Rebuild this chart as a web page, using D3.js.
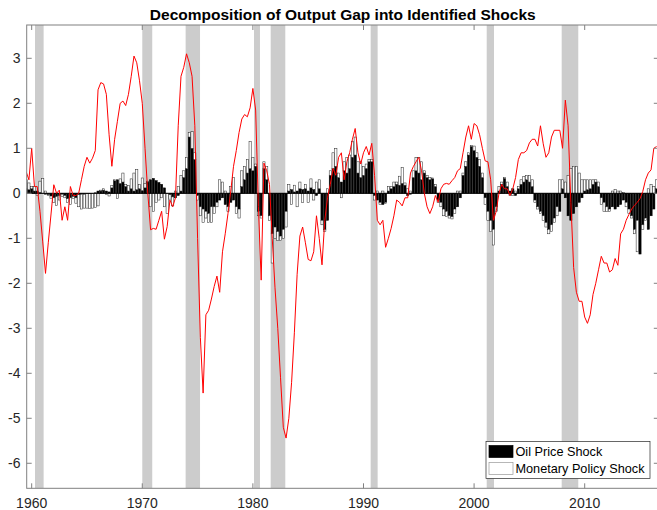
<!DOCTYPE html>
<html>
<head>
<meta charset="utf-8">
<script src="https://cdn.jsdelivr.net/npm/d3@7"></script>
<style>
body { margin: 0; background: #fff; }
svg { display: block; font-family: "Liberation Sans", Arial, sans-serif; }
</style>
</head>
<body>
<svg id="chart" width="657" height="510"></svg>
<script>
// quarterly series, first quarter = 1959.5
var startYear = 1959.5

// output gap (red line)
var gap = [
	0.48,0.3,1.0,0.15, 0.15,-0.4,-1.08,-1.78, -1.1,-0.46,0.19,0.0, 0.07,-0.6,-0.3,-0.6,
	0.15,-0.05,-0.05,0.0, 0.3,0.6,0.8,0.67, 0.78,0.95,2.3,2.46, 2.43,2.2,1.3,0.6,
	1.2,1.6,2.0,2.05, 1.95,2.2,2.6,3.05, 2.9,2.5,2.0,1.0, 0.0,-0.81,-0.78,-0.8,
	-0.6,-0.4,-1.02,-0.74,-0.15, -0.3,-0.1,1.5,2.6, 2.8,3.1,2.9,2.6, 1.5,-1.0,-3.2,-4.44,
	-2.7,-2.6,-2.35,-2.07, -1.84,-2.2,-1.3,-0.9, -0.45,0.05,0.6,0.95, 1.35,1.65,1.75,1.7,
	1.9,2.33,1.85,-0.3, -1.93,0.67,0.5,0.2, -1.0,-2.1,-3.0,-4.1, -5.2,-5.44,-5.0,-4.2,
	-3.1,-1.8,-0.95,-0.75, -1.1,-1.47,-1.5,-1.3, -0.5,-1.0,-1.59,-0.6, -0.1,0.2,0.55,0.4,
	0.8,0.9,0.3,0.7, 0.9,1.2,1.44,0.9, 0.65,0.9,1.04,0.85, 1.11,0.4,-0.6,-0.7,
	-0.6,-1.2,-1.0,-0.78, -0.5,-0.15,-0.2,-0.28, -0.1,-0.1,0.45,0.59, 0.7,0.8,0.5,0.0,
	-0.3,-0.45,-0.3,-0.05, -0.2,0.1,0.2,0.22, 0.2,0.28,0.35,0.5, 0.55,0.9,1.25,1.5,
	1.2,1.55,1.5,1.3, 1.0,0.72,0.7,0.3, -0.6,-0.4,0.0,0.2, 0.1,0.1,-0.05,0.1,
	0.35,0.75,0.9,0.9, 0.95,1.12,1.2,1.2, 1.05,1.5,1.1,0.8, 0.9,1.25,1.4,1.4,
	1.4,1.0,2.07,1.5, -0.2,-1.65,-2.2,-2.4, -2.4,-2.75,-2.89,-2.7,-2.25, -2.0,-1.7,-1.4,-1.55,
	-1.55,-1.75,-1.7,-1.45, -1.6,-0.9,-0.8,-0.6, -0.47,-0.35,-0.27,-0.2, -0.12,0.04,0.3,0.45,
	0.52,1.0,1.04
]

// contribution of oil price shock (black bars)
var oil = [
	0.10,0.08,0.10,0.05, 0.05,0.02,0.00,-0.02, -0.03,-0.06,-0.10,-0.07, -0.05,-0.02,-0.05,-0.12,
	-0.10,-0.07,-0.10,-0.03, -0.02,-0.02,-0.01,-0.01, 0.00,0.01,0.05,0.05, 0.07,0.05,0.03,0.12,
	0.28,0.30,0.22,0.25, 0.15,0.05,0.10,0.05, 0.08,0.10,0.06,0.12, 0.25,0.30,0.33,0.28,
	0.24,0.20,0.12,0.00,-0.03, -0.08,-0.10,-0.05,0.05, 0.35,0.55,1.25,1.00, 0.75,-0.05,-0.30,-0.35,
	-0.40,-0.45,-0.30,-0.30, -0.20,-0.15,-0.10,-0.25, -0.30,-0.20,-0.15,-0.30, -0.35,0.15,0.30,0.45,
	0.55,0.50,0.60,-0.40, -0.50,0.55,0.30,-0.50, -0.90,-0.75,-0.85,-0.95, -0.80,-0.40,0.05,0.08,
	0.03,0.05,0.10,0.08, 0.10,0.05,0.12,0.08, -0.05,0.10,-0.60,-0.80, -0.60,0.40,0.55,0.60,
	0.35,0.25,0.50,0.45, 0.55,0.80,0.85,0.45, 0.35,0.40,0.55,0.70, 0.70,-0.05,-0.15,-0.20,
	-0.25,-0.20,0.05,0.10, 0.15,0.20,0.18,0.22, 0.18,-0.05,-0.02,0.35, 0.50,0.45,0.30,0.45,
	0.35,0.30,0.32,0.15, -0.15,-0.20,-0.35,-0.40, -0.50,-0.52,-0.35,-0.30, -0.10,0.40,0.60,0.85,
	1.04,0.95,0.80,0.60, 0.35,-0.10,-0.40,-0.60, -0.80,-0.30,0.05,0.20, 0.33,0.15,0.05,0.10,
	-0.05,0.10,0.20,0.25, 0.30,0.25,0.15,-0.15, -0.30,-0.40,-0.50,-0.65, -0.80,-0.70,-0.55,-0.30,
	-0.40,0.10,-0.10,-0.50, -0.60,-0.45,-0.30,-0.20, -0.10,0.05,0.08,0.10,0.20, 0.25,0.15,-0.10,-0.20,
	-0.30,-0.35,-0.30,-0.35, -0.30,-0.25,-0.15,-0.20, -0.35,-0.50,-0.80,-0.60, -1.35,-0.70,-0.55,-0.80,
	-0.50,-0.35,0.10
]

// contribution of monetary policy shock (white bars, stacked on top)
var mon = [
	0.20,0.15,0.05,0.10, -0.05,0.25,0.33,0.05, -0.02,-0.05,-0.10,-0.20, -0.10,-0.05,-0.05,-0.08,
	-0.15,-0.05,-0.12,-0.27, -0.33,-0.31,-0.32,-0.33, -0.33,-0.32,-0.28,0.02, 0.03,-0.03,-0.06,0.05,
	0.02,-0.12,0.10,0.20, 0.05,0.12,0.22,0.40, 0.45,0.10,0.28,0.10, 0.02,-0.30,-0.40,-0.20,
	-0.15,-0.10,-0.30,-0.45,-0.10, -0.20,0.05,0.15,0.35, 0.15,0.25,0.10,0.37, 0.15,-0.10,-0.20,-0.30,
	-0.15,-0.20,-0.35,-0.15, -0.10,0.30,0.25,0.05, -0.10,0.15,0.35,-0.15, -0.20,0.35,0.30,0.30,
	0.60,0.30,0.05,-0.10, -0.05,0.15,0.30,-0.10, -0.65,-0.25,-0.20,-0.10, -0.20,-0.35,0.15,-0.25,
	0.15,-0.30,0.15,-0.20, 0.10,-0.20,0.20,-0.15, 0.25,0.20,-0.10,-0.05, 0.10,0.10,0.35,0.40,
	0.10,-0.10,0.20,0.35, 0.30,0.35,0.40,0.25, 0.35,0.20,0.10,0.05, 0.05,-0.10,0.05,-0.05,
	0.05,-0.03,0.10,0.05, 0.10,0.05,0.20,0.35, 0.05,0.10,0.05,0.15, 0.30,0.35,0.40,0.05,
	0.05,0.05,0.02,0.05, -0.05,-0.10,-0.15,-0.12, -0.05,-0.05,-0.10,0.05, 0.05,0.05,0.10,0.05,
	0.02,0.10,0.10,0.15, 0.10,-0.15,-0.20,-0.25, -0.35,-0.10,0.10,0.05, 0.02,0.10,-0.05,-0.05,
	0.05,0.05,0.10,0.12, 0.10,0.15,0.15,-0.05, -0.05,-0.05,-0.10,-0.10, -0.10,-0.15,-0.10,-0.20,
	0.30,0.20,0.25,0.40, 0.55,0.60,0.60,0.45, 0.30,0.25,0.22,0.20,0.10, 0.05,0.10,-0.15,-0.20,
	-0.10,-0.05,0.05,0.08, 0.05,0.05,0.02,-0.10, -0.10,-0.05,-0.10,-0.70, 0.00,-0.10,-0.05,0.10,
	0.20,0.15,0.20
]

// recession shading
var recStart = [1960.30, 1970.00, 1973.92, 1980.10, 1981.61, 1990.65, 2001.14, 2007.92]
var recEnd   = [1961.08, 1970.90, 1975.22, 1980.64, 1982.93, 1991.28, 2001.80, 2009.42]

var xTicks = [1960, 1970, 1980, 1990, 2000, 2010]
var yTicks = [-6, -5, -4, -3, -2, -1, 0, 1, 2, 3]
var seriesNames = ['Oil Price Shock', 'Monetary Policy Shock']
var chartTitle = 'Decomposition of Output Gap into Identified Shocks'

var pL = 26.7, pR = 658.8, pT = 25, pB = 488.3

var svg = d3.select('#chart')

var x = d3.scaleLinear().domain([1959.55, 2016.7]).range([pL, pR])
var y = d3.scaleLinear().domain([-6.556, 3.74]).range([pB, pT])

var quarters = gap.map(function(d, i) { return startYear + i / 4 })
var bw = (x(0.25) - x(0)) * 0.8

// clip for everything inside the axes
svg.append('clipPath').attr('id', 'plotclip')
	.append('rect').attr('x', pL).attr('y', pT).attr('width', pR - pL).attr('height', pB - pT)

var plot = svg.append('g').attr('clip-path', 'url(#plotclip)')

// recession bars
plot.selectAll('rect.rec')
	.data(recStart)
	.enter().append('rect')
	.attr('class', 'rec')
	.attr('x', function(d) { return x(d) })
	.attr('width', function(d, i) { return x(recEnd[i]) - x(d) })
	.attr('y', pT)
	.attr('height', pB - pT)
	.style('fill', '#cccccc')

// stacked bars: oil from 0, monetary stacked on same-sign side
var stacks = quarters.map(function(t, i) {
	var a = oil[i], b = mon[i]
	var b0 = (a >= 0) === (b >= 0) ? a : 0
	return { t: t, o0: 0, o1: a, m0: b0, m1: b0 + b }
})

plot.selectAll('rect.oil')
	.data(stacks)
	.enter().append('rect')
	.attr('class', 'oil')
	.attr('x', function(d) { return x(d.t) - bw / 2 })
	.attr('width', bw)
	.attr('y', function(d) { return y(Math.max(d.o0, d.o1)) })
	.attr('height', function(d) { return Math.abs(y(d.o0) - y(d.o1)) })
	.style('fill', '#000')
	.style('stroke', '#000')
	.style('stroke-width', 0.5)

plot.selectAll('rect.mon')
	.data(stacks)
	.enter().append('rect')
	.attr('class', 'mon')
	.attr('x', function(d) { return x(d.t) - bw / 2 })
	.attr('width', bw)
	.attr('y', function(d) { return y(Math.max(d.m0, d.m1)) })
	.attr('height', function(d) { return Math.abs(y(d.m0) - y(d.m1)) })
	.style('fill', '#fff')
	.style('stroke', '#222')
	.style('stroke-width', 0.5)

// bar baseline
plot.append('line')
	.attr('x1', pL).attr('x2', pR)
	.attr('y1', y(0)).attr('y2', y(0))
	.style('stroke', '#000')
	.style('stroke-width', 1)

// output gap line
var line = d3.line()
	.x(function(d, i) { return x(quarters[i]) })
	.y(function(d) { return y(d) })

plot.append('path')
	.datum(gap)
	.attr('d', line)
	.style('fill', 'none')
	.style('stroke', '#ff0000')
	.style('stroke-width', 1)

// axes box
var axisColor = '#808080'
svg.append('rect')
	.attr('x', pL).attr('y', pT)
	.attr('width', pR - pL).attr('height', pB - pT)
	.style('fill', 'none')
	.style('stroke', axisColor)
	.style('stroke-width', 1)

var tickLen = 5
var axes = svg.append('g').style('stroke', axisColor).style('stroke-width', 1)

xTicks.forEach(function(t) {
	axes.append('line').attr('x1', x(t)).attr('x2', x(t)).attr('y1', pB).attr('y2', pB - tickLen)
	axes.append('line').attr('x1', x(t)).attr('x2', x(t)).attr('y1', pT).attr('y2', pT + tickLen)
})
yTicks.forEach(function(v) {
	axes.append('line').attr('x1', pL).attr('x2', pL + tickLen).attr('y1', y(v)).attr('y2', y(v))
	axes.append('line').attr('x1', pR).attr('x2', pR - tickLen).attr('y1', y(v)).attr('y2', y(v))
})

svg.selectAll('text.xt')
	.data(xTicks)
	.enter().append('text')
	.attr('class', 'xt')
	.attr('x', function(d) { return x(d) })
	.attr('y', 508)
	.attr('text-anchor', 'middle')
	.style('font-size', '14px')
	.style('fill', '#262626')
	.text(function(d) { return d })

svg.selectAll('text.yt')
	.data(yTicks)
	.enter().append('text')
	.attr('class', 'yt')
	.attr('x', 20.5)
	.attr('y', function(d) { return y(d) })
	.attr('dy', '0.35em')
	.attr('text-anchor', 'end')
	.style('font-size', '14px')
	.style('fill', '#262626')
	.text(function(d) { return d })

// title
svg.append('text')
	.attr('x', (pL + pR) / 2)
	.attr('y', 20)
	.attr('text-anchor', 'middle')
	.style('font-size', '15.5px')
	.style('font-weight', 'bold')
	.style('fill', '#000')
	.text(chartTitle)

// legend
var lg = svg.append('g').attr('transform', 'translate(486,441.5)')
lg.append('rect')
	.attr('width', 164).attr('height', 37)
	.style('fill', '#fff')
	.style('stroke', '#262626')
	.style('stroke-width', 0.7)

var swatch = [['#000', '#000'], ['#fff', '#999']]
seriesNames.forEach(function(name, i) {
	lg.append('rect')
		.attr('x', 3).attr('y', 4 + i * 17)
		.attr('width', 24).attr('height', 12)
		.style('fill', swatch[i][0])
		.style('stroke', swatch[i][1])
		.style('stroke-width', 0.7)
	lg.append('text')
		.attr('x', 29.5).attr('y', 10 + i * 17)
		.attr('dy', '0.35em')
		.style('font-size', '12.7px')
		.style('fill', '#000')
		.text(name)
})
</script>
</body>
</html>
